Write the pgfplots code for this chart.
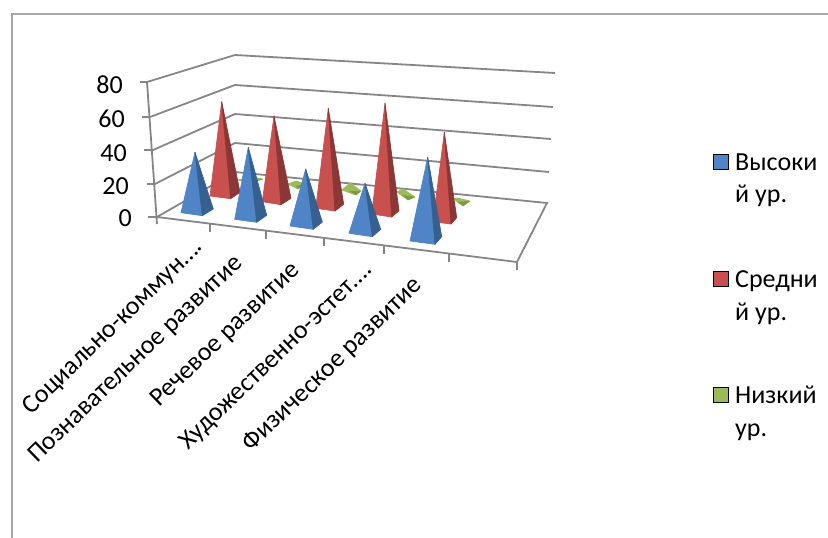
\documentclass[border=0pt]{standalone}
\usepackage{pgfplots}
\pgfplotsset{compat=1.18}
\usepackage{fontspec}
\setmainfont{Carlito}
\definecolor{bf}{HTML}{4F84C6}\definecolor{bs}{HTML}{35608F}
\definecolor{rf}{HTML}{C8504E}\definecolor{rs}{HTML}{8A3735}
\definecolor{gf}{HTML}{9BBB59}\definecolor{gs}{HTML}{7C9A41}
\definecolor{gl}{HTML}{868686}
% pyramid: apex, front-left, front-right, back-right (image pixels)
\newcommand{\pyr}[6]{%
 \addplot[fill=#1,draw=#1,line width=0.7pt,line join=round,forget plot] coordinates {#3 #4 #5} -- cycle;
 \addplot[fill=#2,draw=#2,line width=0.7pt,line join=round,forget plot] coordinates {#3 #5 #6} -- cycle;}
% flat pyramid: left, top, right, bottom, inner point of the dark facet
\newcommand{\green}[5]{%
 \addplot[fill=gf,draw=gf,line width=0.8pt,line join=round,forget plot] coordinates {#1 #2 #3 #4} -- cycle;
 \addplot[fill=gs,draw=none,forget plot] coordinates {#5 #3 #4} -- cycle;}
\newcommand{\gline}[2]{\addplot[gl,line width=1.8pt,forget plot] coordinates {#1 #2};}
\begin{document}
\begin{tikzpicture}
\path[use as bounding box] (0,0) rectangle (828pt,538pt);
\begin{axis}[anchor=south west,at={(0,0)},scale only axis,width=828pt,height=538pt,
  xmin=0,xmax=828,ymin=0,ymax=538,y dir=reverse,hide axis,clip=true]
% frame
\addplot[color=black!35,line width=2pt,forget plot] coordinates {(12,538) (12,14) (828,14)};
% walls
\addplot[gl,line width=1.8pt,forget plot] coordinates {(140,82) (147,82) (235,55) (555,73)};
\addplot[gl,line width=1.8pt,forget plot] coordinates {(142,117) (150,117) (235,85) (553,107)};
\addplot[gl,line width=1.8pt,forget plot] coordinates {(144,150) (153,150) (235,114) (551,139)};
\addplot[gl,line width=1.8pt,forget plot] coordinates {(147,184) (155,184) (235,143) (549,172)};
\addplot[gl,line width=1.8pt,forget plot] coordinates {(148,217) (157,217) (235,172) (547,203) (517,262) (157,217)};
\gline{(147,82)}{(157,224)}
\gline{(210,224)}{(210,232)}
\gline{(266,231)}{(266,239)}
\gline{(324,238)}{(324,246)}
\gline{(384,246)}{(384,254)}
\gline{(449,254)}{(449,262)}
\gline{(517,262)}{(517,270)}
% low level
\green{(238,180)}{(250,177)}{(263,179)}{(250,183)}{(252,180)}
\green{(288,184)}{(296,181)}{(305,184)}{(298,189)}{(296,186)}
\green{(342,190)}{(350,183)}{(361,191)}{(356,195)}{(349,191)}
\green{(397,192)}{(403,189)}{(415,197)}{(408,200)}{(402,195)}
\green{(454,199)}{(457,198)}{(470,201)}{(463,206)}{(457,202)}
% middle level
\pyr{rf}{rs}{(221.7,101.7)}{(210,196)}{(230.7,198.7)}{(240,192.3)}
\pyr{rf}{rs}{(274,116)}{(262.3,201.7)}{(281,204.7)}{(291,198.3)}
\pyr{rf}{rs}{(328.3,108.3)}{(315.7,208.3)}{(335,211)}{(343.7,204.3)}
\pyr{rf}{rs}{(385,103.3)}{(371.7,214)}{(391.7,217)}{(399,210.7)}
\pyr{rf}{rs}{(444.3,132.3)}{(433,221.7)}{(451,224)}{(456.7,217.7)}
% high level
\pyr{bf}{bs}{(195,152.3)}{(181,212.7)}{(202.3,215.7)}{(213.3,209)}
\pyr{bf}{bs}{(248.3,147.3)}{(234.7,219.3)}{(256.7,222.3)}{(266.7,215.3)}
\pyr{bf}{bs}{(305.7,169)}{(290,226)}{(313.3,229.3)}{(322.3,222)}
\pyr{bf}{bs}{(365,183.3)}{(349,233.3)}{(372.3,236.7)}{(380.7,229.3)}
\pyr{bf}{bs}{(427.7,157.3)}{(410,241)}{(435,244.3)}{(441.7,236.7)}
% legend keys
\addplot[only marks,mark=square*,mark size=7.5pt,mark options={draw=none,fill=bf},forget plot] coordinates {(720.5,161.5)};
\addplot[only marks,mark=square*,mark size=7.5pt,mark options={draw=none,fill=rf},forget plot] coordinates {(720.5,278.5)};
\addplot[only marks,mark=square*,mark size=7.5pt,mark options={draw=none,fill=gf},forget plot] coordinates {(720.5,394.5)};
% text
\begin{scope}[every node/.style={font=\fontsize{26}{26}\selectfont,inner sep=0pt}]
\node[anchor=base east] at (axis cs:123,93) {80};
\node[anchor=base east] at (axis cs:125,127) {60};
\node[anchor=base east] at (axis cs:127,161) {40};
\node[anchor=base east] at (axis cs:129,194) {20};
\node[anchor=base east] at (axis cs:132,226) {0};
\node[anchor=base west] at (axis cs:735,170) {Высоки};
\node[anchor=base west] at (axis cs:735,202) {й ур.};
\node[anchor=base west] at (axis cs:735,287) {Средни};
\node[anchor=base west] at (axis cs:735,320) {й ур.};
\node[anchor=base west] at (axis cs:735,403) {Низкий};
\node[anchor=base west] at (axis cs:735,436) {ур.};
\node[anchor=north east,rotate=44] at (axis cs:192,236) {Социально-коммун….};
\node[anchor=north east,rotate=44] at (axis cs:232,252) {Познавательное развитие};
\node[anchor=north east,rotate=44] at (axis cs:289,259) {Речевое развитие};
\node[anchor=north east,rotate=44] at (axis cs:362,259) {Художественно-эстет….};
\node[anchor=north east,rotate=44] at (axis cs:411,274) {Физическое развитие};
\end{scope}
\end{axis}
\end{tikzpicture}
\end{document}
